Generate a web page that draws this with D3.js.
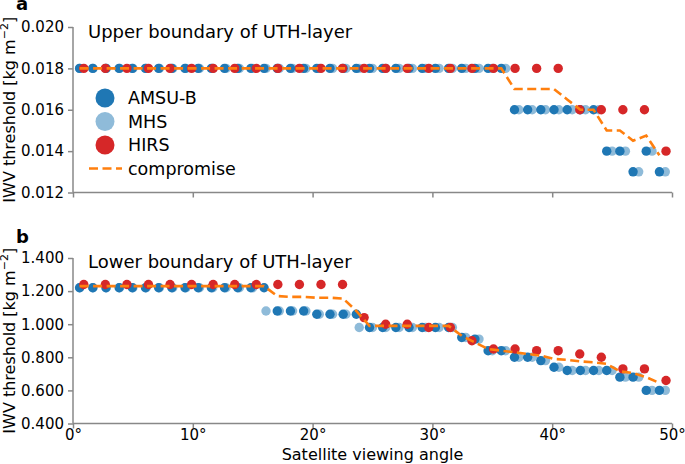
<!DOCTYPE html>
<html><head><meta charset="utf-8">
<script src="https://cdn.jsdelivr.net/npm/d3@7"></script>
<style>body{margin:0;background:#fff}svg{display:block}text{font-family:"DejaVu Sans",sans-serif}</style>
</head><body><div id="chart"></div>
<script>
// ---- data ----
const anglesAMSU = [0.55,1.65,2.75,3.85,4.95,6.05,7.15,8.25,9.35,10.45,11.55,12.65,13.75,14.85,15.95,17.05,18.15,19.25,20.35,21.45,22.55,23.65,24.75,25.85,26.95,28.05,29.15,30.25,31.35,32.45,33.55,34.65,35.75,36.85,37.95,39.05,40.15,41.25,42.35,43.45,44.55,45.65,46.75,47.85,48.95];
const anglesMHS = [0.56,1.67,2.78,3.89,5.00,6.11,7.22,8.33,9.44,10.56,11.67,12.78,13.89,15.00,16.11,17.22,18.33,19.44,20.56,21.67,22.78,23.89,25.00,26.11,27.22,28.33,29.44,30.56,31.67,32.78,33.89,35.00,36.11,37.22,38.33,39.44,40.56,41.67,42.78,43.89,45.00,46.11,47.22,48.33,49.44];
const anglesHIRS = [0.9,2.7,4.5,6.3,8.1,9.9,11.7,13.5,15.3,17.1,18.9,20.7,22.5,24.3,26.1,27.9,29.7,31.5,33.3,35.1,36.9,38.7,40.5,42.3,44.1,45.9,47.7,49.5];

const upperAMSU = [0.018,0.018,0.018,0.018,0.018,0.018,0.018,0.018,0.018,0.018,0.018,0.018,0.018,0.018,0.018,0.018,0.018,0.018,0.018,0.018,0.018,0.018,0.018,0.018,0.018,0.018,0.018,0.018,0.018,0.018,0.018,0.018,0.018,0.016,0.016,0.016,0.016,0.016,0.016,0.016,0.014,0.014,0.013,0.014,0.013];
const upperMHS = [0.018,0.018,0.018,0.018,0.018,0.018,0.018,0.018,0.018,0.018,0.018,0.018,0.018,0.018,0.018,0.018,0.018,0.018,0.018,0.018,0.018,0.018,0.018,0.018,0.018,0.018,0.018,0.018,0.018,0.018,0.018,0.018,0.018,0.016,0.016,0.016,0.016,0.016,0.016,0.016,0.014,0.014,0.013,0.014,0.013];
const upperHIRS = [0.018,0.018,0.018,0.018,0.018,0.018,0.018,0.018,0.018,0.018,0.018,0.018,0.018,0.018,0.018,0.018,0.018,0.018,0.018,0.018,0.018,0.018,0.018,0.016,0.016,0.016,0.016,0.014];
const upperCompromise = [0.018,0.018,0.018,0.018,0.018,0.018,0.018,0.018,0.018,0.018,0.018,0.018,0.018,0.018,0.018,0.018,0.018,0.018,0.018,0.018,0.018,0.018,0.018,0.018,0.018,0.018,0.018,0.018,0.018,0.018,0.018,0.018,0.018,0.017,0.017,0.017,0.017,0.0165,0.016,0.016,0.015,0.015,0.0145,0.01475,0.0138];

const lowerAMSU = [1.22,1.22,1.22,1.22,1.22,1.22,1.22,1.22,1.22,1.22,1.22,1.22,1.22,1.22,1.22,1.08,1.08,1.08,1.06,1.06,1.06,1.06,0.98,0.98,0.98,0.98,0.98,0.98,0.98,0.92,0.91,0.84,0.84,0.80,0.80,0.78,0.74,0.72,0.72,0.72,0.72,0.68,0.68,0.60,0.60];
const lowerMHS = [1.22,1.22,1.22,1.22,1.22,1.22,1.22,1.22,1.22,1.22,1.22,1.22,1.22,1.22,1.08,1.08,1.08,1.08,1.06,1.06,1.06,0.98,0.98,0.98,0.98,0.98,0.98,0.98,0.98,0.92,0.91,0.84,0.84,0.80,0.80,0.78,0.74,0.72,0.72,0.72,0.72,0.68,0.68,0.60,0.60];
const lowerHIRS = [1.24,1.24,1.24,1.24,1.24,1.24,1.24,1.24,1.24,1.24,1.24,1.24,1.24,1.04,1.00,1.00,0.98,0.98,0.90,0.85,0.85,0.84,0.84,0.82,0.80,0.73,0.73,0.66];
const lowerCompromise = [1.23,1.23,1.23,1.23,1.23,1.23,1.23,1.23,1.23,1.23,1.23,1.23,1.23,1.23,1.23,1.17,1.165,1.165,1.16,1.16,1.155,1.08,0.99,0.99,0.99,0.99,0.99,0.99,0.99,0.93,0.89,0.85,0.84,0.83,0.82,0.81,0.79,0.785,0.775,0.77,0.76,0.715,0.705,0.68,0.645];

const xTicks = [0,10,20,30,40,50];
const upperTicks = [0.012,0.014,0.016,0.018,0.020];
const lowerTicks = [0.4,0.6,0.8,1.0,1.2,1.4];
const seriesNames = ["AMSU-B","MHS","HIRS","compromise"];
const colors = {amsu:"#1f77b4", mhs:"#8fbbd9", hirs:"#d62728", comp:"#ff7f0e"};

// ---- chart ----
const W = 685, H = 464;
const svg = d3.select("#chart").append("svg").attr("width", W).attr("height", H);
const x = d3.scaleLinear().domain([0,50]).range([73,672]);
const yTop = d3.scaleLinear().domain([0.012,0.020]).range([192.5,27]);
const yBot = d3.scaleLinear().domain([0.4,1.4]).range([423.5,258]);
const axisColor = "#888";
const R = 4.7;

function panel(y, ticks, fmt, mhs, amsu, hirs, comp, title, letter, letterY, showXLabels) {
  const g = svg.append("g");
  const ya = g.append("g").attr("transform", `translate(${x(0)},0)`)
    .call(d3.axisLeft(y).tickValues(ticks).tickFormat(fmt).tickSize(5).tickPadding(4));
  const xa = g.append("g").attr("transform", `translate(0,${y.range()[0]})`)
    .call(d3.axisBottom(x).tickValues(xTicks).tickFormat(d => showXLabels ? d + "°" : "").tickSize(5).tickPadding(0.5));
  [ya, xa].forEach(a => {
    a.select(".domain").attr("stroke", axisColor).attr("stroke-width", 1.5);
    a.selectAll(".tick line").attr("stroke", axisColor).attr("stroke-width", 1.5);
    a.selectAll("text").attr("font-size", 15).attr("fill", "#000").attr("font-family", '"DejaVu Sans",sans-serif');
  });
  xa.select(".domain").attr("d", `M${x(0)},0H${x(50)}`);
  ya.select(".domain").attr("d", `M0,${y.range()[0]}V${y.range()[1]}`);

  const dots = (angles, vals, col) => g.append("g").selectAll("circle")
    .data(angles.map((a,i)=>[a, vals[i]])).join("circle")
    .attr("cx", d => x(d[0])).attr("cy", d => y(d[1])).attr("r", R).attr("fill", col);
  dots(anglesMHS, mhs, colors.mhs);
  dots(anglesAMSU, amsu, colors.amsu);
  dots(anglesHIRS, hirs, colors.hirs);
  g.append("path").datum(anglesAMSU.map((a,i)=>[a, comp[i]]))
    .attr("fill","none").attr("stroke", colors.comp).attr("stroke-width", 2.6)
    .attr("stroke-dasharray", "9,4.5")
    .attr("d", d3.line().x(d => x(d[0])).y(d => y(d[1])));

  g.append("text").attr("x", 88).attr("y", title.y).attr("font-size", 18).attr("fill","#000").text(title.t);
  g.append("text").attr("x", 16).attr("y", letterY).attr("font-size", 18).attr("font-weight","bold").attr("fill","#000").text(letter);

  const cy = (y.range()[0] + y.range()[1]) / 2;
  const yl = g.append("text").attr("transform", `translate(14.5,${cy}) rotate(-90)`)
    .attr("text-anchor","middle").attr("font-size", 16).attr("fill","#000");
  yl.append("tspan").text("IWV threshold [kg m");
  yl.append("tspan").attr("font-size", 11).attr("dy", -6.5).text("−2");
  yl.append("tspan").attr("dy", 6.5).text("]");
}

panel(yTop, upperTicks, d3.format(".3f"), upperMHS, upperAMSU, upperHIRS, upperCompromise,
  {t:"Upper boundary of UTH-layer", y:38}, "a", 10, false);
panel(yBot, lowerTicks, d3.format(".3f"), lowerMHS, lowerAMSU, lowerHIRS, lowerCompromise,
  {t:"Lower boundary of UTH-layer", y:268}, "b", 243, true);

svg.append("text").attr("x", (x(0)+x(50))/2).attr("y", 459.5).attr("text-anchor","middle")
  .attr("font-size", 16).attr("fill","#000").text("Satellite viewing angle");

// legend
const legRows = [98, 121.5, 145, 168.5];
const leg = svg.append("g");
const legCols = [colors.amsu, colors.mhs, colors.hirs];
seriesNames.forEach((name, i) => {
  if (i < 3) leg.append("circle").attr("cx", 105).attr("cy", legRows[i]).attr("r", 9.5).attr("fill", legCols[i]);
  else leg.append("line").attr("x1", 89).attr("x2", 122).attr("y1", legRows[i]).attr("y2", legRows[i])
    .attr("stroke", colors.comp).attr("stroke-width", 2.6).attr("stroke-dasharray", "9,4.5");
  leg.append("text").attr("x", 128).attr("y", legRows[i] + 6).attr("font-size", 17.5).attr("fill","#000").text(name);
});
</script></body></html>
